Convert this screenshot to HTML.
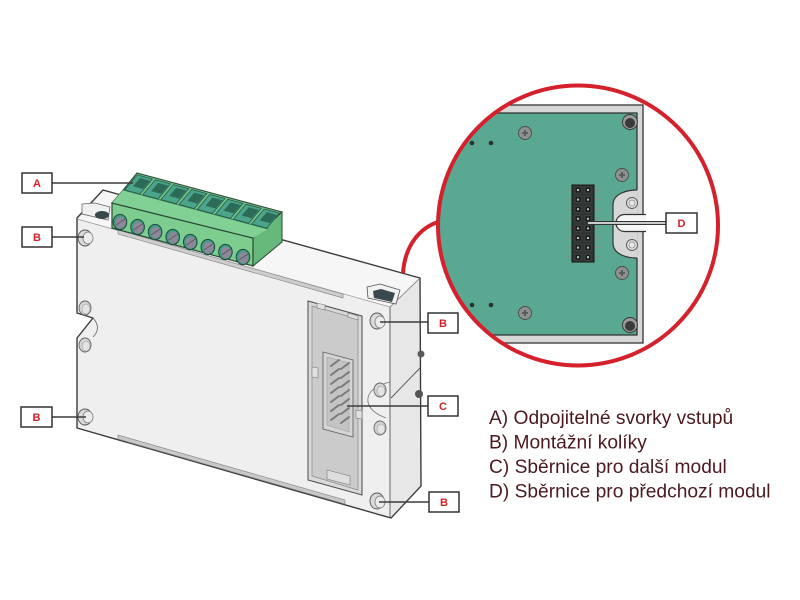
<!DOCTYPE html>
<html>
<head>
<meta charset="utf-8">
<style>
  html,body{margin:0;padding:0;background:#fff;}
  svg{display:block;}
</style>
</head>
<body>
<svg width="800" height="600" viewBox="0 0 800 600" xmlns="http://www.w3.org/2000/svg">
  <defs>
    <clipPath id="cc"><circle cx="578" cy="225.5" r="140"/></clipPath>
  </defs>
  <rect width="800" height="600" fill="#ffffff"/>

  <!-- ===== Device body ===== -->
  <polygon points="77,218 103,190 420,278 421,486 391,518 77,428 77,338 93,318 77,313"
           fill="#efefef" stroke="#3a3a3a" stroke-width="1.4" stroke-linejoin="round"/>
  <!-- top surface -->
  <polygon points="78,219 103,191 419,279 390,307" fill="#f6f6f6"/>
  <!-- right side surface -->
  <polygon points="390,307 419,279 420,486 391,517" fill="#e7e7e7"/>
  <!-- inner edges -->
  <line x1="77" y1="219" x2="390" y2="307" stroke="#9a9a9a" stroke-width="0.8"/>
  <line x1="390" y1="307" x2="390" y2="517" stroke="#555" stroke-width="0.9"/>
  <line x1="390" y1="307" x2="419" y2="279" stroke="#777" stroke-width="0.8"/>
  <line x1="391" y1="398" x2="420" y2="368" stroke="#555" stroke-width="0.9"/>
  <path d="M93,318 Q102,328 93,337" fill="none" stroke="#666" stroke-width="0.8"/>
  <!-- right-side knobs -->
  <circle cx="421" cy="354" r="3.5" fill="#5a5a5a"/>
  <circle cx="419" cy="394" r="4" fill="#555"/>

  <!-- top-left slot -->
  <polygon points="82,204 95,203 110,207 108,220 82,214" fill="#f0f0f0" stroke="#666" stroke-width="0.8"/>
  <ellipse cx="102" cy="215" rx="7" ry="4" fill="#39464c"/>
  <!-- top-right slot -->
  <polygon points="367,287 380,284 400,290 396,304 368,298" fill="#f2f2f2" stroke="#555" stroke-width="0.8"/>
  <polygon points="373,291 381,289 395,293 392,302 374,298" fill="#3a4850"/>

  <!-- grooves -->
  <polygon points="118,230 343,294 343,298 118,234" fill="#cdcdcd" stroke="#8a8a8a" stroke-width="0.7"/>
  <polygon points="118,435 345,500 345,504 118,439" fill="#c9c9c9" stroke="#8a8a8a" stroke-width="0.7"/>

  <!-- left holes -->
  <ellipse cx="85" cy="308" rx="6" ry="7" fill="#d6d6d6" stroke="#666" stroke-width="0.9"/>
  <ellipse cx="86" cy="309" rx="4" ry="5" fill="#e4e4e4" stroke="#999" stroke-width="0.6"/>
  <ellipse cx="85" cy="345" rx="6" ry="7" fill="#d6d6d6" stroke="#666" stroke-width="0.9"/>
  <ellipse cx="86" cy="346" rx="4" ry="5" fill="#e4e4e4" stroke="#999" stroke-width="0.6"/>
  <!-- right holes -->
  <path d="M390,382 Q366,388 368,402 Q370,412 386,418" fill="none" stroke="#777" stroke-width="0.8"/>
  <ellipse cx="380" cy="390" rx="6" ry="7" fill="#d6d6d6" stroke="#666" stroke-width="0.9"/>
  <ellipse cx="381" cy="391" rx="4" ry="5" fill="#e4e4e4" stroke="#999" stroke-width="0.6"/>
  <ellipse cx="380" cy="428" rx="6" ry="7" fill="#d6d6d6" stroke="#666" stroke-width="0.9"/>
  <ellipse cx="381" cy="429" rx="4" ry="5" fill="#e4e4e4" stroke="#999" stroke-width="0.6"/>

  <!-- B pins -->
  <g stroke="#555" stroke-width="0.9">
    <ellipse cx="85" cy="238" rx="7" ry="8" fill="#dadada"/>
    <ellipse cx="88" cy="238" rx="5" ry="6" fill="#ececec" stroke="#888"/>
    <ellipse cx="85" cy="417" rx="7" ry="8" fill="#dadada"/>
    <ellipse cx="88" cy="417" rx="5" ry="6" fill="#ececec" stroke="#888"/>
    <ellipse cx="377" cy="321" rx="7" ry="8" fill="#dadada"/>
    <ellipse cx="380" cy="322" rx="5" ry="6" fill="#ececec" stroke="#888"/>
    <ellipse cx="377" cy="501" rx="7" ry="8" fill="#dadada"/>
    <ellipse cx="380" cy="502" rx="5" ry="6" fill="#ececec" stroke="#888"/>
  </g>

  <!-- connector C recess -->
  <polygon points="308,301 362,316 362,495 308,480" fill="#d9d9d9" stroke="#4a4a4a" stroke-width="1"/>
  <polygon points="312,306 358,319 358,490 312,476" fill="#cbcbcb" stroke="#8a8a8a" stroke-width="0.7"/>
  <polygon points="317,303 325,305 325,310 317,308" fill="#e0e0e0" stroke="#777" stroke-width="0.6"/>
  <polygon points="348,313 358,316 358,320 348,317" fill="#e0e0e0" stroke="#777" stroke-width="0.6"/>
  <polygon points="312,367 318,368 318,378 312,377" fill="#e0e0e0" stroke="#777" stroke-width="0.6"/>
  <polygon points="356,410 362,411 362,419 356,418" fill="#e0e0e0" stroke="#777" stroke-width="0.6"/>
  <polygon points="327,470 350,476 350,485 327,479" fill="#dedede" stroke="#777" stroke-width="0.6"/>
  <polygon points="323,352 353,360 353,437 323,429" fill="#d4d4d4" stroke="#666" stroke-width="0.9"/>
  <polygon points="327,357 349,363 349,432 327,425" fill="#c4c4c4" stroke="#999" stroke-width="0.5"/>
  <g stroke="#7a7a7a" stroke-width="2" stroke-linecap="round">
    <line x1="331" y1="366" x2="339" y2="360"/><line x1="341" y1="369" x2="349" y2="363"/>
    <line x1="331" y1="375" x2="339" y2="369"/><line x1="341" y1="378" x2="349" y2="372"/>
    <line x1="331" y1="384" x2="339" y2="378"/><line x1="341" y1="387" x2="349" y2="381"/>
    <line x1="331" y1="393" x2="339" y2="387"/><line x1="341" y1="396" x2="349" y2="390"/>
    <line x1="331" y1="402" x2="339" y2="396"/><line x1="341" y1="405" x2="349" y2="399"/>
    <line x1="331" y1="411" x2="339" y2="405"/><line x1="341" y1="414" x2="349" y2="408"/>
    <line x1="331" y1="420" x2="339" y2="414"/><line x1="341" y1="423" x2="349" y2="417"/>
  </g>

  <!-- ===== Terminal block ===== -->
  <polygon points="253,238 282,212 282,242 253,266" fill="#66b87b" stroke="#2b4a35" stroke-width="1"/>
  <polygon points="112,203 253,238 253,266 112,228" fill="#7dcd8f" stroke="#2b4a35" stroke-width="1.2"/>
  <polygon points="112,203 124,189 137,173 282,212 253,238" fill="#72c286" stroke="#2b4a35" stroke-width="1.1"/>
  <polygon points="123,190 268,229 253,238 112,203" fill="#82d194"/>
  <line x1="123" y1="190" x2="268" y2="229" stroke="#3d7a55" stroke-width="0.9"/>
  <line x1="112" y1="203" x2="253" y2="238" stroke="#2b4a35" stroke-width="1.1"/>
  <!-- slots -->
  <g>
    <g transform="translate(0,0)"><polygon points="137.2,174.9 152.4,179 139.9,194 124.7,189.9" fill="#4aa58a" stroke="#24584a" stroke-width="0.8"/><polygon points="140,178 150,180.8 143,189 133,186.2" fill="#2e6a58"/></g>
    <g transform="translate(18.125,4.875)"><polygon points="137.2,174.9 152.4,179 139.9,194 124.7,189.9" fill="#4aa58a" stroke="#24584a" stroke-width="0.8"/><polygon points="140,178 150,180.8 143,189 133,186.2" fill="#2e6a58"/></g>
    <g transform="translate(36.25,9.75)"><polygon points="137.2,174.9 152.4,179 139.9,194 124.7,189.9" fill="#4aa58a" stroke="#24584a" stroke-width="0.8"/><polygon points="140,178 150,180.8 143,189 133,186.2" fill="#2e6a58"/></g>
    <g transform="translate(54.375,14.625)"><polygon points="137.2,174.9 152.4,179 139.9,194 124.7,189.9" fill="#4aa58a" stroke="#24584a" stroke-width="0.8"/><polygon points="140,178 150,180.8 143,189 133,186.2" fill="#2e6a58"/></g>
    <g transform="translate(72.5,19.5)"><polygon points="137.2,174.9 152.4,179 139.9,194 124.7,189.9" fill="#4aa58a" stroke="#24584a" stroke-width="0.8"/><polygon points="140,178 150,180.8 143,189 133,186.2" fill="#2e6a58"/></g>
    <g transform="translate(90.625,24.375)"><polygon points="137.2,174.9 152.4,179 139.9,194 124.7,189.9" fill="#4aa58a" stroke="#24584a" stroke-width="0.8"/><polygon points="140,178 150,180.8 143,189 133,186.2" fill="#2e6a58"/></g>
    <g transform="translate(108.75,29.25)"><polygon points="137.2,174.9 152.4,179 139.9,194 124.7,189.9" fill="#4aa58a" stroke="#24584a" stroke-width="0.8"/><polygon points="140,178 150,180.8 143,189 133,186.2" fill="#2e6a58"/></g>
    <g transform="translate(126.875,34.125)"><polygon points="137.2,174.9 152.4,179 139.9,194 124.7,189.9" fill="#4aa58a" stroke="#24584a" stroke-width="0.8"/><polygon points="140,178 150,180.8 143,189 133,186.2" fill="#2e6a58"/></g>
  </g>
  <!-- screw holes -->
  <g>
    <g transform="translate(0,0)"><ellipse cx="120" cy="222" rx="6.8" ry="7.6" fill="#3f9d85" stroke="#1f4a3c"/><ellipse cx="120.6" cy="222.6" rx="5" ry="5.8" fill="#8e8799"/><line x1="116" y1="225" x2="125" y2="219" stroke="#5d5866"/></g>
    <g transform="translate(17.57,5)"><ellipse cx="120" cy="222" rx="6.8" ry="7.6" fill="#3f9d85" stroke="#1f4a3c"/><ellipse cx="120.6" cy="222.6" rx="5" ry="5.8" fill="#8e8799"/><line x1="116" y1="225" x2="125" y2="219" stroke="#5d5866"/></g>
    <g transform="translate(35.14,10)"><ellipse cx="120" cy="222" rx="6.8" ry="7.6" fill="#3f9d85" stroke="#1f4a3c"/><ellipse cx="120.6" cy="222.6" rx="5" ry="5.8" fill="#8e8799"/><line x1="116" y1="225" x2="125" y2="219" stroke="#5d5866"/></g>
    <g transform="translate(52.71,15)"><ellipse cx="120" cy="222" rx="6.8" ry="7.6" fill="#3f9d85" stroke="#1f4a3c"/><ellipse cx="120.6" cy="222.6" rx="5" ry="5.8" fill="#8e8799"/><line x1="116" y1="225" x2="125" y2="219" stroke="#5d5866"/></g>
    <g transform="translate(70.28,20)"><ellipse cx="120" cy="222" rx="6.8" ry="7.6" fill="#3f9d85" stroke="#1f4a3c"/><ellipse cx="120.6" cy="222.6" rx="5" ry="5.8" fill="#8e8799"/><line x1="116" y1="225" x2="125" y2="219" stroke="#5d5866"/></g>
    <g transform="translate(87.85,25)"><ellipse cx="120" cy="222" rx="6.8" ry="7.6" fill="#3f9d85" stroke="#1f4a3c"/><ellipse cx="120.6" cy="222.6" rx="5" ry="5.8" fill="#8e8799"/><line x1="116" y1="225" x2="125" y2="219" stroke="#5d5866"/></g>
    <g transform="translate(105.42,30)"><ellipse cx="120" cy="222" rx="6.8" ry="7.6" fill="#3f9d85" stroke="#1f4a3c"/><ellipse cx="120.6" cy="222.6" rx="5" ry="5.8" fill="#8e8799"/><line x1="116" y1="225" x2="125" y2="219" stroke="#5d5866"/></g>
    <g transform="translate(122.99,35)"><ellipse cx="120" cy="222" rx="6.8" ry="7.6" fill="#3f9d85" stroke="#1f4a3c"/><ellipse cx="120.6" cy="222.6" rx="5" ry="5.8" fill="#8e8799"/><line x1="116" y1="225" x2="125" y2="219" stroke="#5d5866"/></g>
  </g>

  <!-- ===== Leader lines ===== -->
  <g stroke="#3c3c3c" stroke-width="1.6">
    <line x1="52" y1="183" x2="133" y2="183"/>
    <line x1="52" y1="237" x2="84" y2="237"/>
    <line x1="52" y1="417" x2="86" y2="417"/>
    <line x1="380" y1="322" x2="428" y2="322"/>
    <line x1="347" y1="406" x2="428" y2="406"/>
    <line x1="379" y1="502" x2="429" y2="502"/>
  </g>

  <!-- ===== Zoom circle ===== -->
  <g clip-path="url(#cc)">
    <rect x="430" y="80" width="300" height="300" fill="#ffffff"/>
    <rect x="420" y="105" width="223" height="238" fill="#d7d7d7" stroke="#333" stroke-width="1.3"/>
    <rect x="420" y="113" width="217" height="222" fill="#5aa891" stroke="#2a2a2a" stroke-width="1.2"/>
    <!-- notch bulge -->
    <path d="M637.6,190 C628,190 613,193 613,205 L613,243 C613,255 628,258 637.6,258 Z" fill="#d7d7d7"/>
    <path d="M637,190 C628,190 613,193 613,205 L613,243 C613,255 628,258 637,258" fill="none" stroke="#333" stroke-width="1.2"/>
    <circle cx="632" cy="203" r="5.5" fill="#dedede" stroke="#555" stroke-width="0.9"/>
    <circle cx="632" cy="203" r="3" fill="#e8e8e8" stroke="#888" stroke-width="0.7"/>
    <circle cx="632" cy="245" r="5.5" fill="#dedede" stroke="#555" stroke-width="0.9"/>
    <circle cx="632" cy="245" r="3" fill="#e8e8e8" stroke="#888" stroke-width="0.7"/>
    <path d="M646,214.5 L624.5,214.5 A8.5,8.5 0 0 0 624.5,231.5 L646,231.5" fill="#f6f6f6" stroke="#333" stroke-width="1.2"/>
    <!-- corner knobs -->
    <circle cx="630" cy="122" r="7.5" fill="#9a9a9a" stroke="#333" stroke-width="0.9"/>
    <circle cx="630" cy="123" r="5" fill="#3a3a3a"/>
    <circle cx="630" cy="325" r="7.5" fill="#9a9a9a" stroke="#333" stroke-width="0.9"/>
    <circle cx="630" cy="326" r="5" fill="#3a3a3a"/>
    <!-- screws -->
    <g stroke="#4a4a4a" stroke-width="0.9" fill="#8d918f">
      <circle cx="525" cy="133" r="6.5"/>
      <circle cx="622" cy="175" r="6.5"/>
      <circle cx="622" cy="273" r="6.5"/>
      <circle cx="525" cy="313" r="6.5"/>
    </g>
    <g stroke="#55585a" stroke-width="1.8">
      <path d="M522,133 h6 M525,130 v6"/>
      <path d="M619,175 h6 M622,172 v6"/>
      <path d="M619,273 h6 M622,270 v6"/>
      <path d="M522,313 h6 M525,310 v6"/>
    </g>
    <!-- dots -->
    <g fill="#253530">
      <circle cx="472" cy="143" r="2.3"/><circle cx="491" cy="143" r="2.3"/>
      <circle cx="472" cy="305" r="2.3"/><circle cx="491" cy="305" r="2.3"/>
    </g>
    <!-- header connector -->
    <g stroke="#8a8a8a" stroke-width="1.2">
      <path d="M567,190 h5 M567,199.6 h5 M567,209.2 h5 M567,218.8 h5 M567,228.4 h5 M567,238 h5 M567,247.6 h5 M567,257.2 h5"/>
      <path d="M594,190 h5 M594,199.6 h5 M594,209.2 h5 M594,218.8 h5 M594,228.4 h5 M594,238 h5 M594,247.6 h5 M594,257.2 h5"/>
    </g>
    <rect x="572" y="185" width="22" height="77" fill="#2f3533" stroke="#151515" stroke-width="1"/>
    <g fill="#1a1e1d" stroke="#4a504e" stroke-width="0.6">
      <rect x="575" y="187" width="6" height="6"/><rect x="585" y="187" width="6" height="6"/>
      <rect x="575" y="196.6" width="6" height="6"/><rect x="585" y="196.6" width="6" height="6"/>
      <rect x="575" y="206.2" width="6" height="6"/><rect x="585" y="206.2" width="6" height="6"/>
      <rect x="575" y="215.8" width="6" height="6"/><rect x="585" y="215.8" width="6" height="6"/>
      <rect x="575" y="225.4" width="6" height="6"/><rect x="585" y="225.4" width="6" height="6"/>
      <rect x="575" y="235" width="6" height="6"/><rect x="585" y="235" width="6" height="6"/>
      <rect x="575" y="244.6" width="6" height="6"/><rect x="585" y="244.6" width="6" height="6"/>
      <rect x="575" y="254.2" width="6" height="6"/><rect x="585" y="254.2" width="6" height="6"/>
    </g>
    <g fill="#b8c2bf">
      <rect x="577" y="189" width="2" height="2"/><rect x="587" y="189" width="2" height="2"/>
      <rect x="577" y="198.6" width="2" height="2"/><rect x="587" y="198.6" width="2" height="2"/>
      <rect x="577" y="208.2" width="2" height="2"/><rect x="587" y="208.2" width="2" height="2"/>
      <rect x="577" y="217.8" width="2" height="2"/><rect x="587" y="217.8" width="2" height="2"/>
      <rect x="577" y="227.4" width="2" height="2"/><rect x="587" y="227.4" width="2" height="2"/>
      <rect x="577" y="237" width="2" height="2"/><rect x="587" y="237" width="2" height="2"/>
      <rect x="577" y="246.6" width="2" height="2"/><rect x="587" y="246.6" width="2" height="2"/>
      <rect x="577" y="256.2" width="2" height="2"/><rect x="587" y="256.2" width="2" height="2"/>
    </g>
  </g>
  <!-- D leader -->
  <line x1="587" y1="223" x2="666" y2="223" stroke="#333" stroke-width="4"/>
  <line x1="588" y1="223" x2="666" y2="223" stroke="#ffffff" stroke-width="1.6"/>

  <!-- red circle + connector arc -->
  <circle cx="578" cy="225.5" r="140" fill="none" stroke="#d4212c" stroke-width="4"/>
  <path d="M438,222 C420,228 405,245 403,273" fill="none" stroke="#d4212c" stroke-width="4"/>

  <!-- ===== Label boxes ===== -->
  <g stroke="#333" stroke-width="1.5" fill="#ffffff">
    <rect x="22" y="173" width="30" height="20"/>
    <rect x="22" y="227" width="30" height="20"/>
    <rect x="21" y="407" width="31" height="20"/>
    <rect x="428" y="313" width="30" height="20"/>
    <rect x="428" y="396" width="30" height="20"/>
    <rect x="429" y="492" width="30" height="20"/>
    <rect x="666" y="213" width="31" height="20"/>
  </g>
  <g font-family="'Liberation Sans', Arial, sans-serif" font-size="11" font-weight="bold" fill="#d42029" text-anchor="middle">
    <text x="37" y="187">A</text>
    <text x="37" y="241">B</text>
    <text x="36.5" y="421">B</text>
    <text x="443" y="327">B</text>
    <text x="443" y="410">C</text>
    <text x="444" y="506">B</text>
    <text x="681.5" y="227">D</text>
  </g>

  <!-- ===== Legend ===== -->
  <g font-family="'Liberation Sans', Arial, sans-serif" font-size="19.2" fill="#4a1a1e">
    <text x="489" y="424">A) Odpojitelné svorky vstupů</text>
    <text x="489" y="448.5">B) Montážní kolíky</text>
    <text x="489" y="473">C) Sběrnice pro další modul</text>
    <text x="489" y="497.5">D) Sběrnice pro předchozí modul</text>
  </g>
</svg>
</body>
</html>
